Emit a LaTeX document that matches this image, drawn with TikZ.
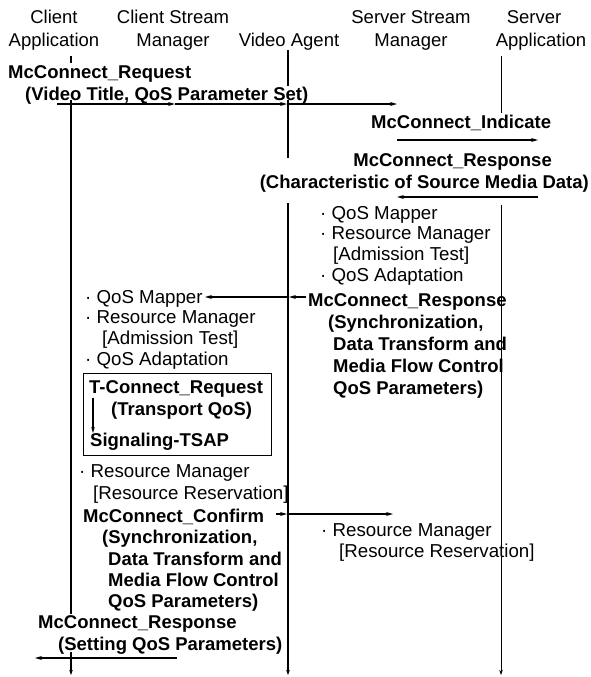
\documentclass[tikz,border=0pt]{standalone}
\usepackage{fontspec}
\setmainfont{Liberation Sans}
\usetikzlibrary{arrows.meta}

\begin{document}
\begin{tikzpicture}[x=1pt,y=-1pt,
  hdr/.style={font=\fontsize{18.5}{23}\selectfont, inner sep=0pt, align=center, anchor=north},
  lst/.style={font=\fontsize{18.7}{20.7}\selectfont, inner sep=0pt, align=left, anchor=north west},
  bld/.style={font=\fontsize{18.5}{22}\selectfont\bfseries, inner sep=0pt, align=left, anchor=north west},
  life/.style={line width=1.2pt},
  thinlife/.style={line width=0.7pt},
  tip/.style={-{Stealth[length=5pt,width=3.5pt]}},
  msg/.style={line width=1.2pt, -{Stealth[length=7pt,width=4pt]}},
  frame/.style={draw, line width=1.2pt},
]
\useasboundingbox (0,0) rectangle (590,677);

% column headings
\node[hdr] (hCA)  at (54,10)  {Client\\Application};
\node[hdr] (hCSM) at (173,10) {Client Stream\\Manager};
\node[hdr] (hVA)  at (289,33) {Video Agent};
\node[hdr] (hSSM) at (411,10) {Server Stream\\Manager};
\node[hdr] (hSA)  at (541,10) {\hspace*{0pt}Server\hspace*{14pt}\\Application};

% lifelines (broken where message labels cross them)
\coordinate (ca0) at (71,56);  \coordinate (ca1) at (71,63);
\coordinate (ca2) at (71,100); \coordinate (ca3) at (71,614);
\coordinate (ca4) at (71,652); \coordinate (ca5) at (71,675);
\draw[life] (ca0) -- (ca1);
\draw[life] (ca2) -- (ca3);
\draw[life,tip] (ca4) -- (ca5);

\coordinate (va0) at (288,50);  \coordinate (va1) at (288,86);
\coordinate (va2) at (288,100); \coordinate (va3) at (288,158);
\coordinate (va4) at (288,203); \coordinate (va5) at (288,675);
\draw[life] (va0) -- (va1);
\draw[life] (va2) -- (va3);
\draw[life,tip] (va4) -- (va5);

\coordinate (sa0) at (501,56);  \coordinate (sa1) at (501,113);
\coordinate (sa2) at (501,205); \coordinate (sa3) at (501,675);
\draw[thinlife] (sa0) -- (sa1);
\draw[thinlife,tip] (sa2) -- (sa3);

% McConnect_Request
\node[bld] (req) at (8,65) {McConnect\_Request\\\hspace*{17pt}(Video Title, QoS Parameter Set)};
\coordinate (r0) at (57,104);  \coordinate (r1) at (175,104);
\coordinate (r2) at (287,104); \coordinate (r3) at (397,104);
\draw[msg] (r0) -- (r1);
\draw[msg] (r1) -- (r2);
\draw[msg] (r2) -- (r3);

% McConnect_Indicate
\node[bld] (ind) at (371,115) {McConnect\_Indicate};
\coordinate (i0) at (397,140); \coordinate (i1) at (538,140);
\draw[msg] (i0) -- (i1);

% McConnect_Response from the server
\node[bld, align=right, anchor=north east] (rsp1) at (589,153)
  {McConnect\_Response\hspace*{37pt}\\(Characteristic of Source Media Data)};
\coordinate (p0) at (538,197); \coordinate (p1) at (397,197);
\draw[msg] (p0) -- (p1);

% server stream manager functions
\node[lst] (ssmf) at (320,206)
  {· QoS Mapper\\· Resource Manager\\\hspace*{13pt}[Admission Test]\\· QoS Adaptation};

% McConnect_Response to the client stream manager
\node[bld] (rsp2) at (308,293)
  {McConnect\_Response\\\hspace*{20pt}(Synchronization,\\\hspace*{25pt}Data Transform and\\\hspace*{25pt}Media Flow Control\\\hspace*{25pt}QoS Parameters)};
\coordinate (m0) at (306,297); \coordinate (m1) at (289,297);
\coordinate (m2) at (205,297);
\draw[msg] (m0) -- (m1);
\draw[msg] (m1) -- (m2);

% client stream manager functions
\node[lst] (csmf) at (85,290)
  {· QoS Mapper\\· Resource Manager\\\hspace*{17pt}[Admission Test]\\· QoS Adaptation};

% transport connection set-up
\node[frame, minimum width=188pt, minimum height=82pt, anchor=north west, inner sep=0pt] (tbox) at (83,373) {};
\node[bld] (treq) at (89,380) {T-Connect\_Request\\\hspace*{22pt}(Transport QoS)};
\node[bld] (tsap) at (90,433) {Signaling-TSAP};
\coordinate (t0) at (93,398); \coordinate (t1) at (93,433);
\draw[line width=1.1pt, -{Stealth[length=6pt,width=3.5pt]}] (t0) -- (t1);

% resource reservation at the client side
\node[lst, font=\fontsize{18.7}{22}\selectfont] (crr) at (79,464)
  {· Resource Manager\\\hspace*{14pt}[Resource Reservation]};

% McConnect_Confirm
\node[bld, font=\fontsize{18.5}{21.3}\selectfont\bfseries] (cnf) at (83,509)
  {McConnect\_Confirm\\\hspace*{19pt}(Synchronization,\\\hspace*{25pt}Data Transform and\\\hspace*{25pt}Media Flow Control\\\hspace*{25pt}QoS Parameters)};
\coordinate (f0) at (276,514); \coordinate (f1) at (287,514);
\coordinate (f2) at (393,514);
\draw[msg] (f0) -- (f1);
\draw[msg] (f1) -- (f2);

% resource reservation at the server side
\node[lst, font=\fontsize{18.7}{21}\selectfont] (srr) at (321,523)
  {· Resource Manager\\\hspace*{18pt}[Resource Reservation]};

% McConnect_Response to the client application
\node[bld] (rsp3) at (38,615) {McConnect\_Response\\\hspace*{20pt}(Setting QoS Parameters)};
\coordinate (b0) at (177,658); \coordinate (b1) at (35,658);
\draw[msg] (b0) -- (b1);
\end{tikzpicture}
\end{document}
